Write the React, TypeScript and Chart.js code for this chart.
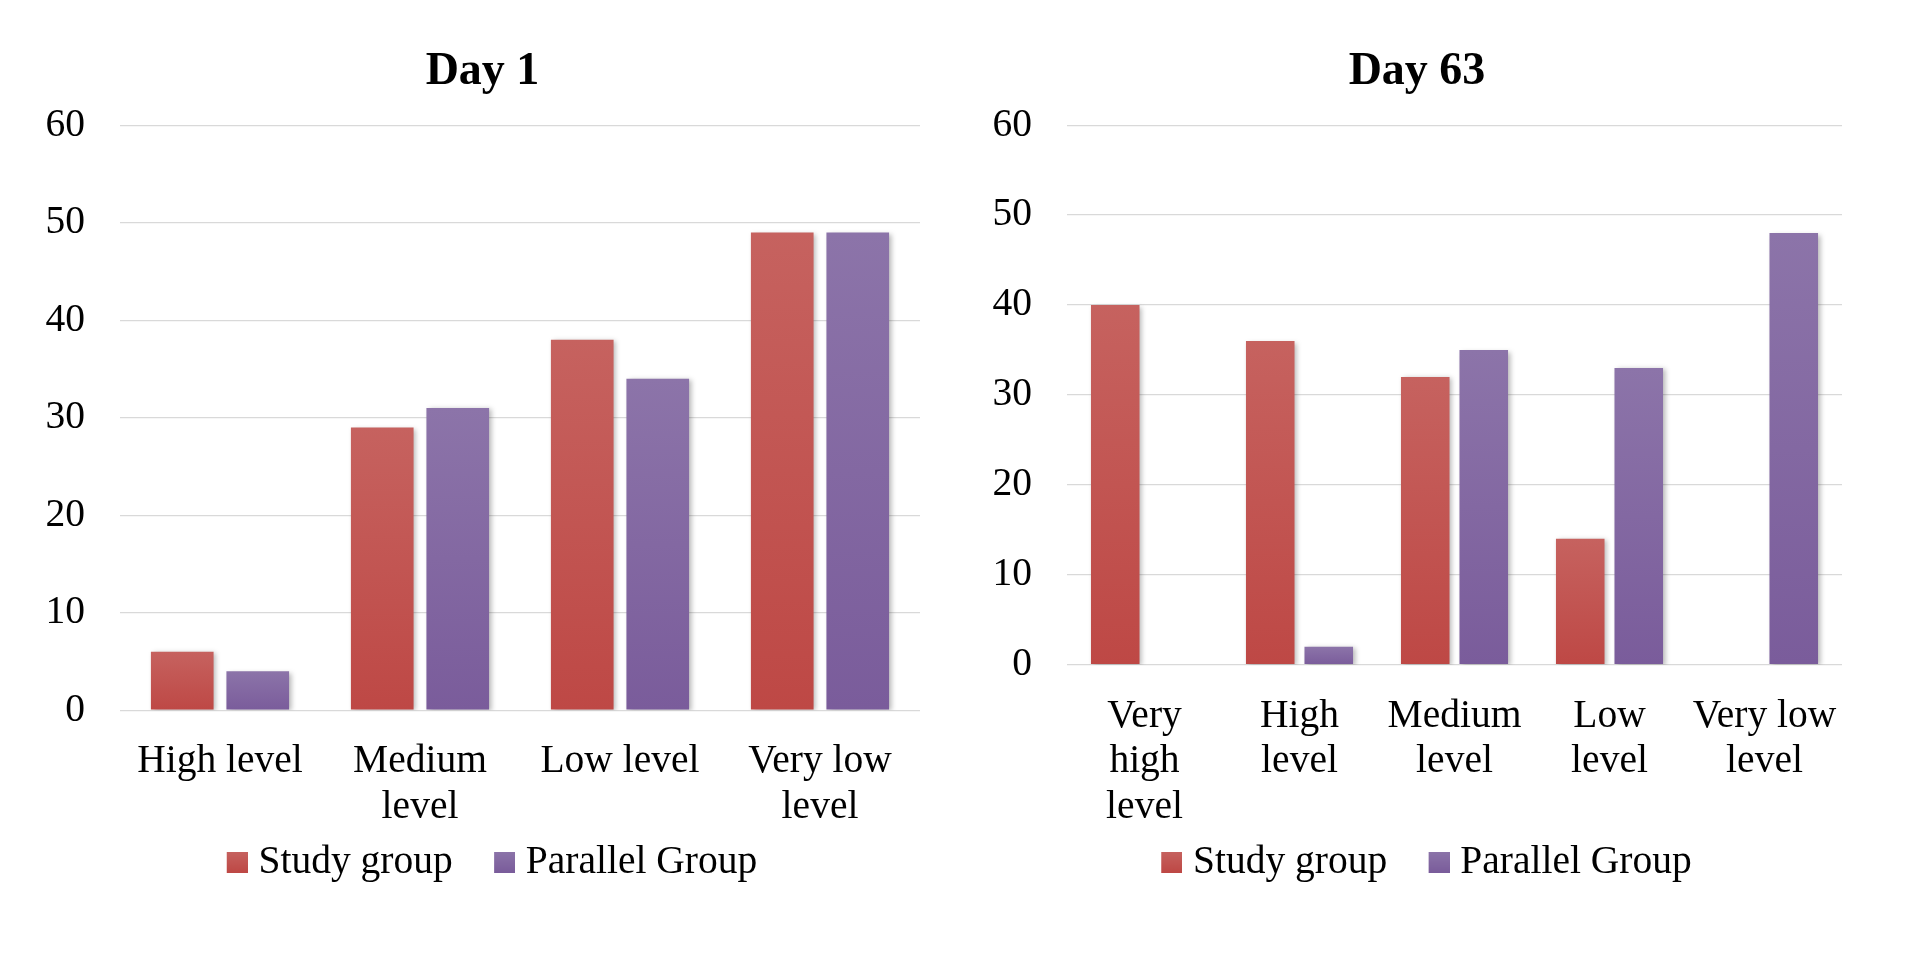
import React, { useEffect, useRef } from "react";
import { Chart, registerables } from "chart.js";

Chart.register(...registerables);

const FONT = '"Liberation Serif", "Times New Roman", Times, serif';

const seriesNames = ["Study group", "Parallel Group"];

const day1Title = "Day 1";
const day1Categories = [["High level"], ["Medium", "level"], ["Low level"], ["Very low", "level"]];
const day1Study = [6, 29, 38, 49];
const day1Parallel = [4, 31, 34, 49];

const day63Title = "Day 63";
const day63Categories = [["Very", "high", "level"], ["High", "level"], ["Medium", "level"], ["Low", "level"], ["Very low", "level"]];
const day63Study = [40, 36, 32, 14, 0];
const day63Parallel = [0, 2, 35, 33, 48];

const yMin = 0;
const yMax = 60;
const yStep = 10;

const studyColors = ["#C6625F", "#BE4845"];
const parallelColors = ["#8C74A9", "#7A5C9B"];

const LEGEND_BOX_W = 31;

const shadowPlugin = {
  id: "barShadow",
  beforeDatasetsDraw(chart: any) {
    const c = chart.ctx;
    c.save();
    c.shadowColor = "rgba(0,0,0,0.28)";
    c.shadowBlur = 5;
    c.shadowOffsetX = 2.5;
    c.shadowOffsetY = 1.5;
  },
  afterDatasetsDraw(chart: any) {
    chart.ctx.restore();
  },
};

// legend swatch: transparent on the left, 21px square on the right
function makeSwatch(colors: string[]) {
  const c = document.createElement("canvas");
  const w = LEGEND_BOX_W + 18;
  c.width = w;
  c.height = 21;
  const g = c.getContext("2d")!;
  const grad = g.createLinearGradient(0, 0, 0, 21);
  grad.addColorStop(0, colors[0]);
  grad.addColorStop(1, colors[1]);
  g.fillStyle = grad;
  g.fillRect(w - 21, 0, 21, 21);
  return c;
}

function barFill(colors: string[]) {
  return (ctx: any) => {
    const chart = ctx.chart;
    const y = chart.scales && chart.scales.y;
    if (ctx.type !== "data" || !y || !chart.chartArea) return colors[1];
    const top = y.getPixelForValue(ctx.raw);
    const bottom = y.getPixelForValue(0);
    if (!isFinite(top) || !isFinite(bottom) || bottom - top < 1) return colors[1];
    const g = chart.ctx.createLinearGradient(0, top, 0, bottom);
    g.addColorStop(0, colors[0]);
    g.addColorStop(1, colors[1]);
    return g;
  };
}

type Props = {
  title: string;
  categories: string[][];
  study: number[];
  parallel: number[];
  left: number;
  width: number;
  pad: { left: number; right: number; top: number; bottom: number };
  yWidth: number;
};

function BarPanel(props: Props) {
  const ref = useRef<HTMLCanvasElement | null>(null);
  useEffect(() => {
    if (!ref.current) return;
    const swatches = [makeSwatch(studyColors), makeSwatch(parallelColors)];
    const chart = new Chart(ref.current, {
      type: "bar",
      data: {
        labels: props.categories,
        datasets: [
          {
            label: seriesNames[0],
            data: props.study,
            backgroundColor: barFill(studyColors),
            borderWidth: 0,
            categoryPercentage: 0.755,
            barPercentage: 0.83,
          },
          {
            label: seriesNames[1],
            data: props.parallel,
            backgroundColor: barFill(parallelColors),
            borderWidth: 0,
            categoryPercentage: 0.755,
            barPercentage: 0.83,
          },
        ],
      },
      options: {
        responsive: false,
        animation: false,
        events: [],
        layout: { padding: props.pad },
        plugins: {
          tooltip: { enabled: false },
          title: {
            display: true,
            text: props.title,
            color: "#000",
            font: { family: FONT, size: 46, weight: "bold", lineHeight: 1.2 },
            padding: { top: 0, bottom: 25.5 },
          },
          legend: {
            display: true,
            position: "bottom",
            labels: {
              color: "#000",
              font: { family: FONT, size: 39.5 },
              usePointStyle: true,
              pointStyleWidth: LEGEND_BOX_W,
              boxHeight: 21,
              padding: 12.5,
              generateLabels: (ch: any) =>
                (Chart.defaults.plugins.legend.labels.generateLabels as any)(ch).map((l: any, i: number, arr: any[]) => ({
                  ...l,
                  text: i < arr.length - 1 ? l.text + " " : l.text,
                  pointStyle: swatches[i],
                })),
            },
          },
        },
        scales: {
          x: {
            grid: { display: false, drawTicks: true, tickLength: 29 },
            border: { display: false },
            ticks: {
              color: "#000",
              font: { family: FONT, size: 39.5, lineHeight: 1.15 },
              padding: 0,
              autoSkip: false,
              maxRotation: 0,
              minRotation: 0,
            },
          },
          y: {
            min: yMin,
            max: yMax,
            border: { display: false },
            grid: { color: "#D9D9D9", lineWidth: 1.3, drawTicks: false },
            ticks: {
              stepSize: yStep,
              color: "#000",
              font: { family: FONT, size: 39.5 },
              padding: 35,
            },
            afterFit: (s: any) => {
              s.width = props.yWidth;
            },
          },
        },
      } as any,
      plugins: [shadowPlugin],
    });
    return () => chart.destroy();
  }, []);
  return (
    <div style={{ position: "absolute", left: props.left, top: 0, width: props.width, height: 954 }}>
      <canvas ref={ref} width={props.width} height={954} />
    </div>
  );
}

export default function App() {
  return (
    <div style={{ position: "absolute", left: 0, top: 0, width: 1919, height: 954, background: "#fff", overflow: "hidden" }}>
      <BarPanel
        title={day1Title}
        categories={day1Categories}
        study={day1Study}
        parallel={day1Parallel}
        left={0}
        width={960}
        pad={{ left: 45, right: 40, top: 44.5, bottom: 62 }}
        yWidth={75}
      />
      <BarPanel
        title={day63Title}
        categories={day63Categories}
        study={day63Study}
        parallel={day63Parallel}
        left={960}
        width={959}
        pad={{ left: 32, right: 77, top: 44.5, bottom: 62 }}
        yWidth={75}
      />
    </div>
  );
}
